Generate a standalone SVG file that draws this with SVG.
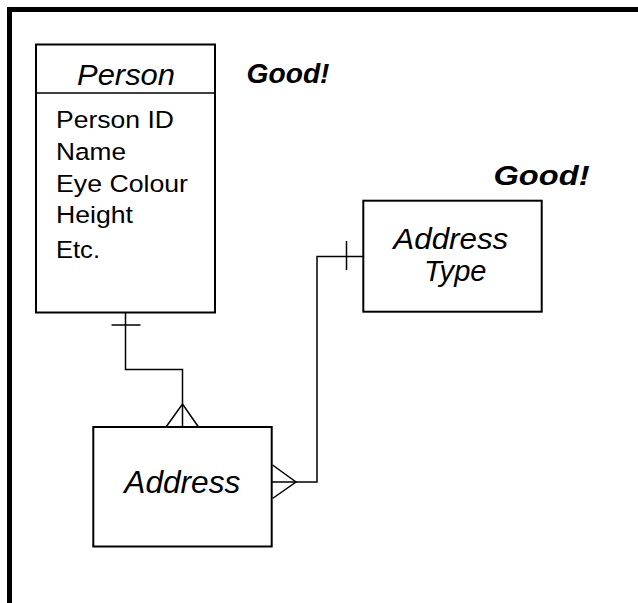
<svg xmlns="http://www.w3.org/2000/svg" width="638" height="603" viewBox="0 0 638 603">
<style>
.box{fill:#fff;stroke:#000;stroke-width:2}
.ln{fill:none;stroke:#000;stroke-width:1.5}
.t{font-family:"Liberation Sans",Arial,sans-serif;fill:#000}
.it{font-style:italic}
.bi{font-style:italic;font-weight:bold}
</style>
<rect width="638" height="603" fill="#fff"/>
<path d="M9.5,603 V9.5 H638" fill="none" stroke="#000" stroke-width="5"/>
<g id="connectors">
<path class="ln" d="M125.5,312 V369.5 H182.5 V427"/>
<path class="ln" d="M111.5,325 H140.5"/>
<path class="ln" d="M166,427 L182.5,404 L198.5,427"/>
<path class="ln" d="M272,482 H317 V256.5 H363"/>
<path class="ln" d="M346.5,241 V270"/>
<path class="ln" d="M272.5,465 L296,482 L272.5,498.5"/>
</g>
<g id="person">
<rect class="box" x="36" y="44.5" width="179" height="268"/>
<line class="ln" x1="36" y1="93" x2="215" y2="93"/>
<text class="t it" x="77" y="85" font-size="29" textLength="98" lengthAdjust="spacingAndGlyphs">Person</text>
<text class="t" x="56" y="128.3" font-size="24.5" textLength="118" lengthAdjust="spacingAndGlyphs">Person ID</text>
<text class="t" x="56" y="159.5" font-size="24.5" textLength="70" lengthAdjust="spacingAndGlyphs">Name</text>
<text class="t" x="56" y="192" font-size="24.5" textLength="132" lengthAdjust="spacingAndGlyphs">Eye Colour</text>
<text class="t" x="56" y="222.7" font-size="24.5" textLength="77" lengthAdjust="spacingAndGlyphs">Height</text>
<text class="t" x="56" y="258" font-size="24.5" textLength="44" lengthAdjust="spacingAndGlyphs">Etc.</text>
</g>
<g id="good1">
<text class="t bi" x="246.5" y="83.3" font-size="27.5" textLength="83" lengthAdjust="spacingAndGlyphs">Good!</text>
</g>
<g id="good2">
<text class="t bi" x="493.5" y="185" font-size="28.5" textLength="96" lengthAdjust="spacingAndGlyphs">Good!</text>
</g>
<g id="address-type">
<rect class="box" x="363.3" y="200.7" width="178.4" height="111"/>
<text class="t it" x="393.3" y="249.3" font-size="29.5" textLength="115" lengthAdjust="spacingAndGlyphs">Address</text>
<text class="t it" x="424" y="280.7" font-size="29.5" textLength="62.5" lengthAdjust="spacingAndGlyphs">Type</text>
</g>
<g id="address">
<rect class="box" x="93.3" y="427" width="178.4" height="119.5"/>
<text class="t it" x="124.3" y="493.3" font-size="30.5" textLength="116" lengthAdjust="spacingAndGlyphs">Address</text>
</g>
</svg>
